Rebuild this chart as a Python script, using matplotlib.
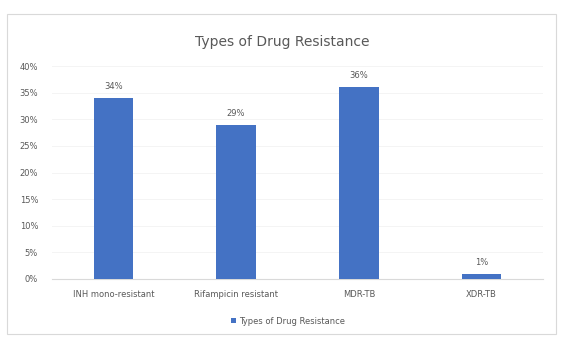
import matplotlib.pyplot as plt
from matplotlib.patches import Rectangle
from matplotlib.ticker import PercentFormatter

categories = ["INH mono-resistant", "Rifampicin resistant", "MDR-TB", "XDR-TB"]
values = [0.34, 0.29, 0.36, 0.01]
value_labels = ["34%", "29%", "36%", "1%"]
series_name = "Types of Drug Resistance"
yticks = [0, 0.05, 0.10, 0.15, 0.20, 0.25, 0.30, 0.35, 0.40]

bar_color = "#4472C4"
text_color = "#595959"

fig = plt.figure(figsize=(5.64, 3.38), dpi=100)
fig.patch.set_facecolor("white")

# chart frame
fig.patches.append(Rectangle((7 / 564, 1 - 334 / 338), 549 / 564, 320 / 338,
                             transform=fig.transFigure, fill=False,
                             edgecolor="#d9d9d9", linewidth=0.8))

ax = fig.add_axes([52 / 564, 1 - 279 / 338, 491 / 564, 213 / 338])
x = range(len(categories))
bars = ax.bar(x, values, width=0.32, color=bar_color, label=series_name, zorder=3)

for xi, v, lab in zip(x, values, value_labels):
    ax.annotate(lab, (xi, v), xytext=(0, 5), textcoords="offset points",
                ha="center", va="bottom", fontsize=6, color=text_color)

ax.set_ylim(0, 0.40)
ax.set_xlim(-0.5, len(categories) - 0.5)
ax.set_yticks(yticks)
ax.yaxis.set_major_formatter(PercentFormatter(1.0, decimals=0))
ax.set_xticks(list(x))
ax.set_xticklabels(categories)
ax.tick_params(axis="both", length=0, labelsize=6, colors=text_color)
ax.tick_params(axis="y", pad=10)
ax.tick_params(axis="x", pad=8)
ax.grid(axis="y", color="#f2f2f2", linewidth=0.6, zorder=0)
for side in ["top", "right", "left"]:
    ax.spines[side].set_visible(False)
ax.spines["bottom"].set_color("#d9d9d9")
ax.spines["bottom"].set_linewidth(0.8)

fig.text(0.5, 1 - 42 / 338, "Types of Drug Resistance", ha="center", va="center",
         fontsize=10, color=text_color)

fig.legend(handles=[bars], labels=[series_name], loc="center",
           bbox_to_anchor=(288 / 564, 1 - 321 / 338), frameon=False,
           fontsize=6, labelcolor=text_color, handlelength=0.6, handleheight=0.6,
           handletextpad=0.4)

fig.savefig("out.png", dpi=100, facecolor="white")
